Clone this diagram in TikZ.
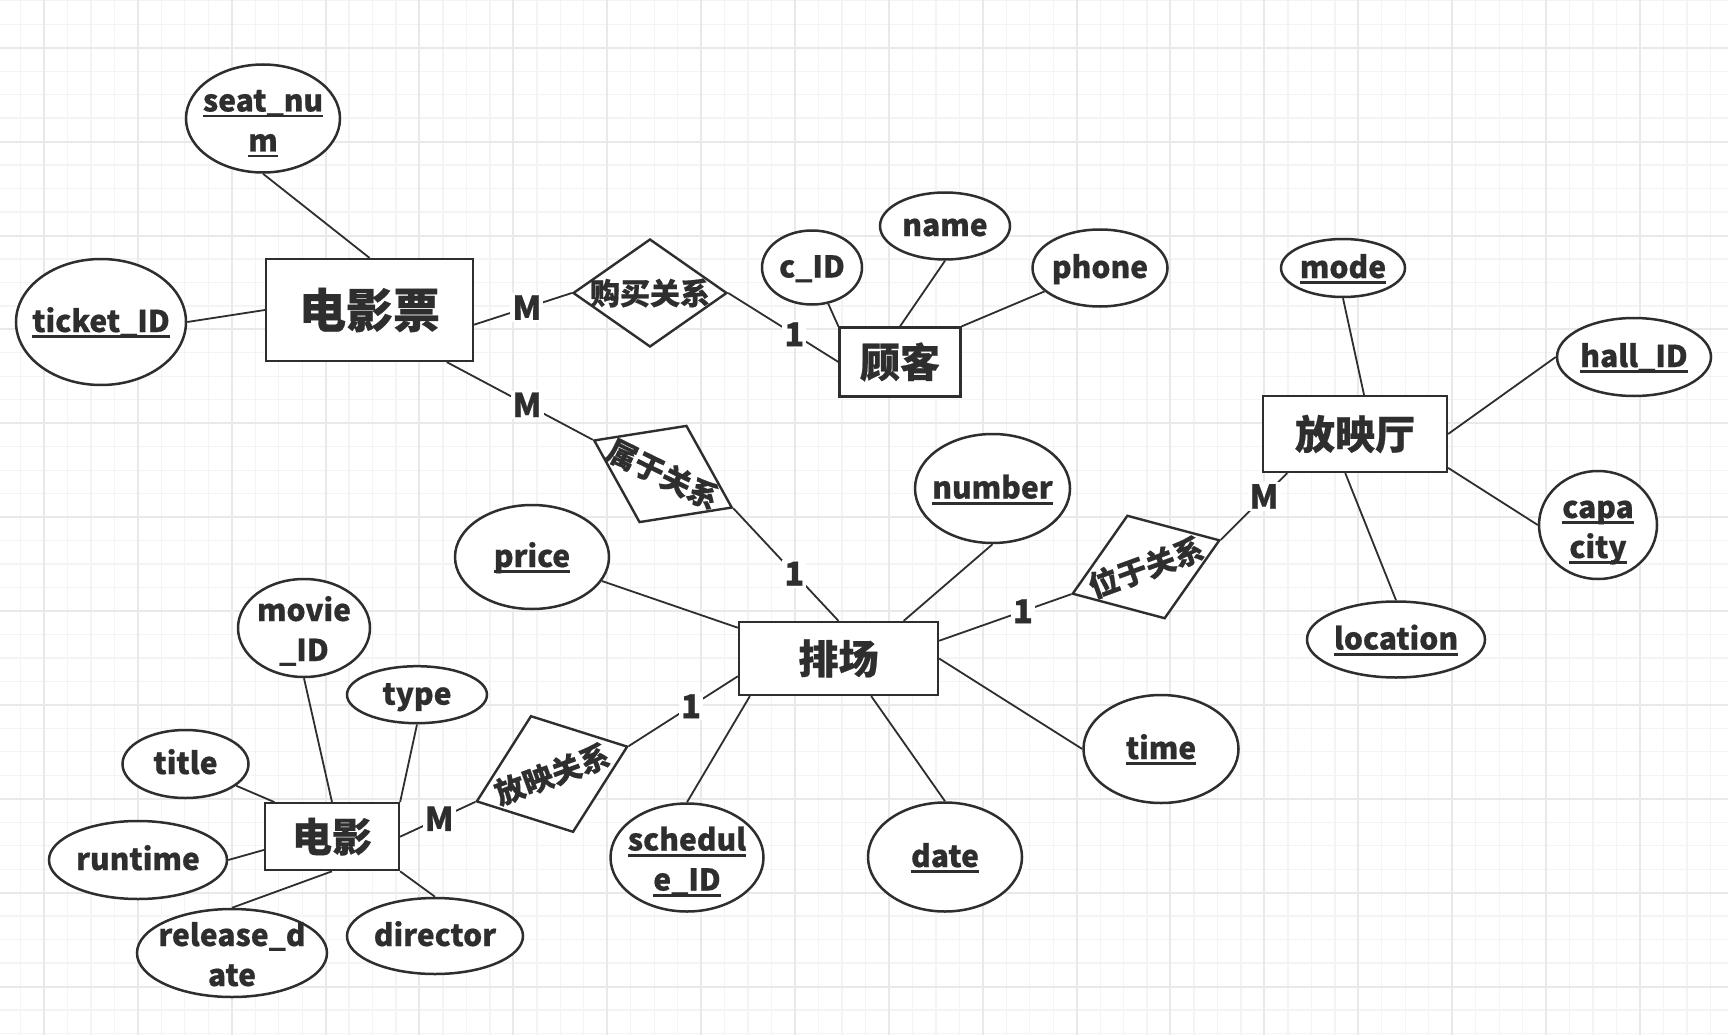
\documentclass[tikz,border=0pt]{standalone}
\usepackage{fontspec}
\setmainfont{Noto Sans CJK SC}[BoldFeatures={FakeBold=0.6}]
\usetikzlibrary{shapes.geometric}
\definecolor{ink}{HTML}{2E2E2E}
\definecolor{gminor}{HTML}{F4F4F4}
\definecolor{gmajor}{HTML}{E9E9E9}
\newcommand{\fattr}{\fontsize{30}{40}\selectfont\bfseries}
\newcommand{\fent}{\fontsize{40}{40}\selectfont\bfseries}
\newcommand{\fentb}{\fontsize{47}{47}\selectfont\bfseries}
\newcommand{\frel}{\fontsize{30}{30}\selectfont\bfseries}
\newcommand{\fcard}{\fontsize{33}{33}\selectfont\bfseries}
\newcommand{\keyu}[1]{\setbox0=\hbox{#1}\rlap{\rule[-6pt]{\wd0}{2.6pt}}\box0}
\newcommand{\topA}{\rule{0pt}{28pt}}
\newcommand{\topB}{\rule{0pt}{34pt}}
\newcommand{\botA}{\rule[-8pt]{0pt}{8pt}}
\tikzset{
  attr/.style={ellipse, draw=ink, line width=2.5pt, fill=white, text=ink, font=\fattr,
    align=center, inner xsep=-30pt, inner ysep=-14pt},
  ent/.style={rectangle, draw=ink, line width=2.2pt, fill=white, text=ink, font=\fent, inner sep=0pt},
  reldia/.style={diamond, draw=ink, line width=2.4pt, fill=white, inner sep=0pt},
  reltxt/.style={text=ink, font=\frel, inner sep=0pt},
  card/.style={fill=white, text=ink, font=\fcard, inner sep=2pt},
  conn/.style={draw=ink, line width=1.8pt},
}
\begin{document}
\begin{tikzpicture}[x=1pt, y=-1pt]
\useasboundingbox (0,0) rectangle (1728,1035);
\fill[white] (0,0) rectangle (1728,1035);
% grid
\foreach \i in {0,...,73} {
  \pgfmathsetmacro\gx{20.53+23.47*\i}
  \draw[gminor, line width=1.3pt] (\gx,0) -- (\gx,1035);
}
\foreach \j in {0,...,44} {
  \pgfmathsetmacro\gy{0.76+23.47*\j}
  \draw[gminor, line width=1.3pt] (0,\gy) -- (1728,\gy);
}
\foreach \k in {0,...,17} {
  \pgfmathsetmacro\gx{44+93.87*\k}
  \draw[gmajor, line width=2pt] (\gx,0) -- (\gx,1035);
}
\foreach \k in {0,...,10} {
  \pgfmathsetmacro\gy{47.7+93.9*\k}
  \draw[gmajor, line width=2pt] (0,\gy) -- (1728,\gy);
}

% entities
\node[ent, font=\fentb, minimum width=207pt, minimum height=102pt] (e1) at (369.5,310) {电影票};
\node[ent, minimum width=121pt, minimum height=69pt] (e2) at (900,362) {顾客};
\node[ent, minimum width=184pt, minimum height=76pt] (e3) at (1355,434) {放映厅};
\node[ent, minimum width=199pt, minimum height=73pt] (e4) at (838.5,658.5) {排场};
\node[ent, minimum width=134pt, minimum height=67pt] (e5) at (332,836.7) {电影};

% relationships
\node[reldia, minimum width=154pt, minimum height=108pt] (r1) at (650,293) {};
\node[reltxt] (r1t) at (r1.center) {购买关系};
\node[reldia, minimum width=154pt, minimum height=108pt, rotate=-26] (r2) at (663,474) {};
\node[reltxt, rotate=-26] (r2t) at (r2.center) {属于关系};
\node[reldia, minimum width=157pt, minimum height=110pt, rotate=20] (r3) at (1146,567) {};
\node[reltxt, rotate=20] (r3t) at (r3.center) {位于关系};
\node[reldia, minimum width=161pt, minimum height=124pt, rotate=20] (r4) at (552,774) {};
\node[reltxt, rotate=20] (r4t) at (r4.center) {放映关系};

% attributes
\node[attr, minimum width=154pt, minimum height=108pt] (seat) at (263,118.5) {\topB\keyu{seat\_nu}\\\keyu{m}\botA};
\node[attr, minimum width=170pt, minimum height=126pt] (tid) at (101,322) {\topA\keyu{ticket\_ID}\botA};
\node[attr, minimum width=100pt, minimum height=74pt] (cid) at (812,267.5) {\topA c\_ID\botA};
\node[attr, minimum width=130pt, minimum height=67pt] (name) at (945,226) {\topA name\botA};
\node[attr, minimum width=135pt, minimum height=77pt] (phone) at (1100,268) {\topA phone\botA};
\node[attr, minimum width=124pt, minimum height=58pt] (mode) at (1343,268) {\topA\keyu{mode}\botA};
\node[attr, minimum width=154pt, minimum height=78pt] (hall) at (1634,357) {\topA\keyu{hall\_ID}\botA};
\node[attr, minimum width=118pt, minimum height=108pt] (cap) at (1598,525) {\topB\keyu{capa}\\\keyu{city}\botA};
\node[attr, minimum width=178pt, minimum height=76pt] (loc) at (1396,639.5) {\topA\keyu{location}\botA};
\node[attr, minimum width=155pt, minimum height=109pt] (number) at (992.5,488.5) {\topA\keyu{number}\botA};
\node[attr, minimum width=154pt, minimum height=104pt] (price) at (532,557) {\topA\keyu{price}\botA};
\node[attr, minimum width=155pt, minimum height=108pt] (time) at (1161,749) {\topA\keyu{time}\botA};
\node[attr, minimum width=154pt, minimum height=109pt] (date) at (945,857) {\topA\keyu{date}\botA};
\node[attr, minimum width=153pt, minimum height=108pt] (sched) at (687,857.5) {\topB\keyu{schedul}\\\keyu{e\_ID}\botA};
\node[attr, minimum width=132pt, minimum height=98pt] (movie) at (304,628) {\topB movie\\\_ID\botA};
\node[attr, minimum width=140pt, minimum height=57pt] (type) at (417,694.7) {\topA type\botA};
\node[attr, minimum width=126pt, minimum height=68pt] (title) at (185.5,764) {\topA title\botA};
\node[attr, minimum width=178pt, minimum height=78pt] (runtime) at (138,860) {\topA runtime\botA};
\node[attr, minimum width=190pt, minimum height=88pt] (rel) at (232,953) {\topB release\_d\\ate\botA};
\node[attr, minimum width=176pt, minimum height=76pt] (dir) at (435,936) {\topA director\botA};

% connectors
\draw[conn] (seat.south) -- (e1.north);
\draw[conn] (tid.east) -- (e1.west);
\draw[conn] (e1.-8) -- node[card, pos=0.54] (c1) {M} (r1.west);
\draw[conn] (e1.-34) -- node[card, pos=0.55] (c2) {M} (r2.west);
\draw[conn] (r1.east) -- node[card, pos=0.6] (c3) {1} (e2.west);
\draw[conn] (cid) -- (e2.north west);
\draw[conn] (name.south) -- (e2.north);
\draw[conn] (phone) -- (e2.north east);
\draw[conn] (r2.east) -- node[card, pos=0.58] (c4) {1} (e4.north);
\draw[conn] (number.south) -- (e4.30);
\draw[conn] (e4.10) -- node[card, pos=0.635] (c5) {1} (r3.west);
\draw[conn] (r3.east) -- node[card, pos=0.65] (c6) {M} (e3.-150);
\draw[conn] (mode.south) -- (e3.77);
\draw[conn] (hall.west) -- (e3.east);
\draw[conn] (cap.west) -- (e3.-20);
\draw[conn] (loc.north) -- (e3.-104);
\draw[conn] (time.west) -- (e4.east);
\draw[conn] (date.north) -- (e4.-49);
\draw[conn] (sched.north) -- (e4.-157);
\draw[conn] (price) -- (e4.163);
\draw[conn] (e4.190) -- node[card, pos=0.43] (c7) {1} (r4.east);
\draw[conn] (e5.east) -- node[card, pos=0.52] (c8) {M} (r4.west);
\draw[conn] (movie.south) -- (e5.north);
\draw[conn] (type.south) -- (e5.north east);
\draw[conn] (title) -- (e5.149);
\draw[conn] (runtime.east) -- (e5.-169);
\draw[conn] (rel.north) -- (e5.south);
\draw[conn] (dir.north) -- (e5.south east);
\end{tikzpicture}
\end{document}
